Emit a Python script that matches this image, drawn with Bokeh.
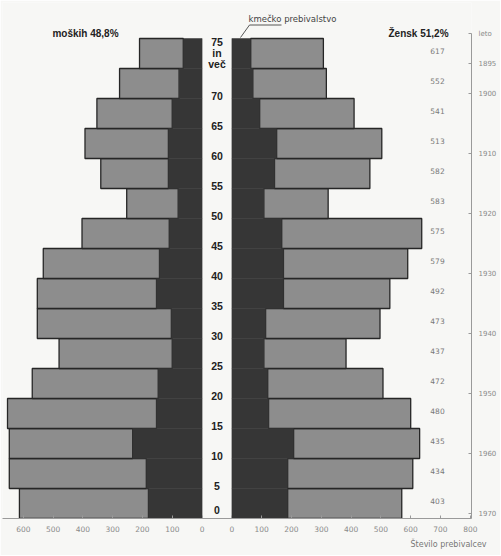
from bokeh.plotting import figure
from bokeh.models import Range1d, LinearAxis, FixedTicker, Label, ColumnDataSource, Title
from bokeh.core.properties import value
from bokeh.embed import file_html
from bokeh.resources import INLINE

# ---- data ----
age_start = [0, 5, 10, 15, 20, 25, 30, 35, 40, 45, 50, 55, 60, 65, 70, 75]
age_labels = ["0", "5", "10", "15", "20", "25", "30", "35", "40", "45", "50",
              "55", "60", "65", "70", "75\nin\nveč"]
male_total = [613, 647, 647, 653, 570, 480, 553, 553, 533, 403, 253, 340, 393, 353, 277, 210]
male_farm = [180, 187, 233, 153, 147, 100, 103, 153, 143, 110, 80, 113, 113, 100, 77, 63]
female_total = [570, 607, 630, 600, 507, 383, 497, 530, 590, 637, 323, 463, 503, 410, 317, 307]
female_farm = [187, 187, 207, 123, 120, 107, 113, 173, 173, 167, 107, 143, 150, 93, 70, 63]
female_note = ["403", "434", "435", "480", "472", "437", "473", "492",
               "579", "575", "583", "582", "513", "541", "552", "617"]
left_ticks = [0, 100, 200, 300, 400, 500, 600]
right_ticks = [0, 100, 200, 300, 400, 500, 600, 700, 800]
year_ticks = [1895, 1900, 1910, 1920, 1930, 1940, 1950, 1960, 1970]
male_title = "moških 48,8%"
female_title = "Žensk 51,2%"
farm_title = "kmečko prebivalstvo"
year_title = "leto"
x_title = "Število prebivalcev"

# ---- geometry ----
G = 50            # half-width of the central label column, in value units
K = 0.298         # px per value unit
CX = 216.5        # page x of the centre
W, H = 500, 555
FR_L, FR_R = 2, 471          # page x of frame edges
FR_T, FR_B = 2, 518          # page y of frame edges
PXY = 6.0                    # px per year of age
YMAX = (FR_B - FR_T) / PXY
x0 = (FR_L - CX) / K
x1 = (FR_R - CX) / K
YEAR0 = 1970.8               # birth year at age 0 on the year axis

BG = "#f7f7f5"
LIGHT = "#8d8d8d"
DARK = "#363636"
EDGE = "#262626"

p = figure(width=W, height=H, x_range=Range1d(x0, x1), y_range=Range1d(0, YMAX),
           output_backend="svg", toolbar_location=None, y_axis_location=None,
           min_border_left=FR_L, min_border_top=FR_T, min_border_right=W - FR_R,
           min_border_bottom=H - FR_B, background_fill_color=BG, border_fill_color=BG,
           outline_line_color=None)
p.grid.visible = False

yc = [a + 2.5 for a in age_start]
src = ColumnDataSource(dict(
    y=yc,
    m_in=[-G] * len(yc),
    m_farm=[-(G + v) for v in male_farm],
    m_tot=[-(G + v) for v in male_total],
    f_in=[G] * len(yc),
    f_farm=[G + v for v in female_farm],
    f_tot=[G + v for v in female_total],
    lab=age_labels,
    lab_y=[max(a, 1) + 0.5 if a < 75 else a + 2.6 for a in age_start],
    note=female_note,
))

# total (light) bars stacked outside the farm (dark) bars
p.hbar(y="y", left="m_farm", right="m_tot", height=5, source=src,
       fill_color=LIGHT, line_color=EDGE, line_width=1.3)
p.hbar(y="y", left="f_farm", right="f_tot", height=5, source=src,
       fill_color=LIGHT, line_color=EDGE, line_width=1.3)
p.hbar(y="y", left="m_farm", right="m_in", height=5, source=src,
       fill_color=DARK, line_color=DARK, line_width=0.5)
p.hbar(y="y", left="f_in", right="f_farm", height=5, source=src,
       fill_color=DARK, line_color=DARK, line_width=0.5)

# age labels in central column
p.text(x=0, y="lab_y", text="lab", source=src, text_align="center",
       text_baseline="middle", text_font=value("Liberation Sans"),
       text_font_style="bold", text_font_size="10.5px", text_color="#222222",
       text_line_height=0.9)

# numbers to the right of female bars
p.text(x=(437 - CX) / K, y="y", text="note", source=src, text_align="center",
       text_baseline="middle", text_font=value("DejaVu Sans"),
       text_font_size="7.5px", text_color="#7a7a7a", y_offset=-3)

# bottom axis (two mirrored scales)
ax = p.xaxis[0]
tick_pos = [-(G + v) for v in left_ticks] + [G + v for v in right_ticks]
ax.ticker = FixedTicker(ticks=tick_pos)
ax.major_label_overrides = {**{-(G + v): str(v) for v in left_ticks},
                            **{G + v: str(v) for v in right_ticks}}
ax.axis_line_color = "#9a9a9a"
ax.major_tick_line_color = "#9a9a9a"
ax.major_tick_in = 3
ax.major_tick_out = 0
ax.minor_tick_line_color = None
ax.major_label_text_font = "DejaVu Sans"
ax.major_label_text_font_size = "7.5px"
ax.major_label_text_color = "#8a8a8a"
ax.major_label_standoff = 7

# bottom-right caption
p.add_layout(Title(text=x_title, align="left", offset=410 - FR_L,
                   text_font="DejaVu Sans", text_font_size="8px",
                   text_font_style="normal", text_color="#777777", standoff=7), "below")

# year axis on the right ("leto" as its top label)
YEAR_TOP = 1890
p.extra_y_ranges = {"year": Range1d(start=YEAR0, end=YEAR0 - YMAX)}
yax = LinearAxis(y_range_name="year", ticker=FixedTicker(ticks=[YEAR_TOP] + year_ticks),
                 bounds=(YEAR_TOP, YEAR0))
yax.major_label_overrides = {YEAR_TOP: year_title}
yax.axis_line_color = "#9a9a9a"
yax.major_tick_line_color = "#9a9a9a"
yax.major_tick_in = 3
yax.major_tick_out = 0
yax.minor_tick_line_color = None
yax.major_label_text_font = "DejaVu Sans"
yax.major_label_text_font_size = "7px"
yax.major_label_text_color = "#8a8a8a"
yax.major_label_standoff = 7
p.add_layout(yax, "right")

def px(xpage):
    return (xpage - CX) / K

def py(ypage):
    return (FR_B - ypage) / PXY

# titles / annotations
p.add_layout(Label(x=px(85), y=py(33), text=male_title, text_align="center",
                   text_baseline="middle", text_font="Liberation Sans",
                   text_font_style="bold", text_font_size="10px", text_color="#222222"))
p.add_layout(Label(x=px(418), y=py(33), text=female_title, text_align="center",
                   text_baseline="middle", text_font="Liberation Sans",
                   text_font_style="bold", text_font_size="10px", text_color="#222222"))
p.add_layout(Label(x=px(248), y=py(18), text=farm_title, text_align="left",
                   text_baseline="middle", text_font="DejaVu Sans",
                   text_font_size="8.5px", text_color="#444444"))
p.line(x=[px(281), px(249), px(240)], y=[py(24.5), py(24.5), py(37)],
       line_color="#444444", line_width=0.9)

open("out.html", "w").write(file_html(p, INLINE))
